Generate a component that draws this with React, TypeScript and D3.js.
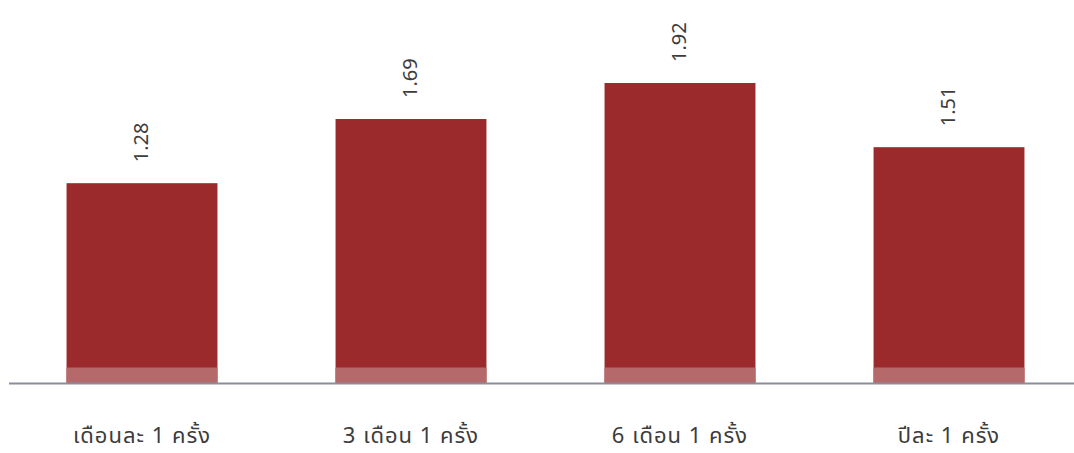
import React from "react";
import * as d3 from "d3";

const categories = ["เดือนละ 1 ครั้ง", "3 เดือน 1 ครั้ง", "6 เดือน 1 ครั้ง", "ปีละ 1 ครั้ง"];
const values = [1.28, 1.69, 1.92, 1.51];
const valueLabels = ["1.28", "1.69", "1.92", "1.51"];

const W = 1074;
const H = 453;
const baseY = 383.5;
const FONT = "'Noto Sans Thai', 'Noto Sans', 'DejaVu Sans', sans-serif";

export default function App() {
  const x = d3
    .scaleBand<string>()
    .domain(categories)
    .range([7.5, 1083.5])
    .paddingInner(0.439)
    .paddingOuter(0.2195);
  const y = d3.scaleLinear().domain([0, 2]).range([baseY, baseY - 313]);
  const bw = x.bandwidth();

  return (
    <svg
      width={W}
      height={H}
      style={{ position: "absolute", left: 0, top: 0, background: "#fff" }}
    >
      {categories.map((c, i) => {
        const x0 = x(c)!;
        const top = y(values[i]);
        const cx = x0 + bw / 2;
        return (
          <g key={c}>
            <rect x={x0} y={top} width={bw} height={baseY - top} fill="#9b2a2c" />
            <rect x={x0} y={baseY - 16} width={bw} height={16} fill="#b5696b" />
            <text
              transform={`translate(${cx},${top - 21}) rotate(-90)`}
              dominantBaseline="central"
              textAnchor="start"
              fontFamily={FONT}
              fontSize={20}
              fill="#3c3c3c"
            >
              {valueLabels[i]}
            </text>
            <text
              x={cx}
              y={443}
              textAnchor="middle"
              fontFamily={FONT}
              fontSize={22}
              letterSpacing={1}
              fill="#3c3c3c"
            >
              {c}
            </text>
          </g>
        );
      })}
      <line x1={9} x2={1074} y1={baseY} y2={baseY} stroke="#8a8e98" strokeWidth={2} />
    </svg>
  );
}
